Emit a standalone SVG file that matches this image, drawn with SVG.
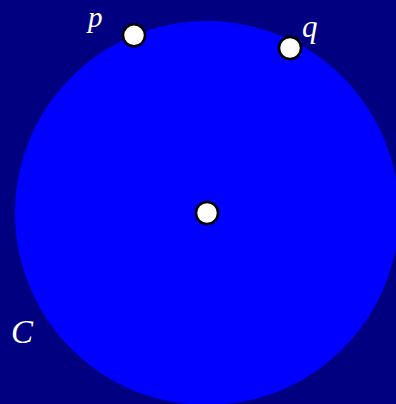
<svg xmlns="http://www.w3.org/2000/svg" width="396" height="404" viewBox="0 0 396 404">
<style>
.lbl{font-family:"Liberation Serif","DejaVu Serif",serif;font-style:italic;font-size:31px;fill:#ffffff}
.pt{fill:#ffffff;stroke:#000000;stroke-width:2.5}
</style>
<rect width="396" height="404" fill="#000080"/>
<g id="C">
<circle cx="207" cy="213" r="192" fill="#0000ff"/>
<text class="lbl" x="11" y="343" style="font-size:33px">C</text>
</g>
<g id="connectors"></g>
<g id="p">
<circle class="pt" cx="134" cy="35.3" r="11"/>
<text class="lbl" x="88" y="26.5" style="font-size:29px">p</text>
</g>
<g id="q">
<circle class="pt" cx="290" cy="48" r="11"/>
<text class="lbl" x="302" y="37">q</text>
</g>
<g id="center">
<circle class="pt" cx="207" cy="213" r="11"/>
</g>
</svg>
